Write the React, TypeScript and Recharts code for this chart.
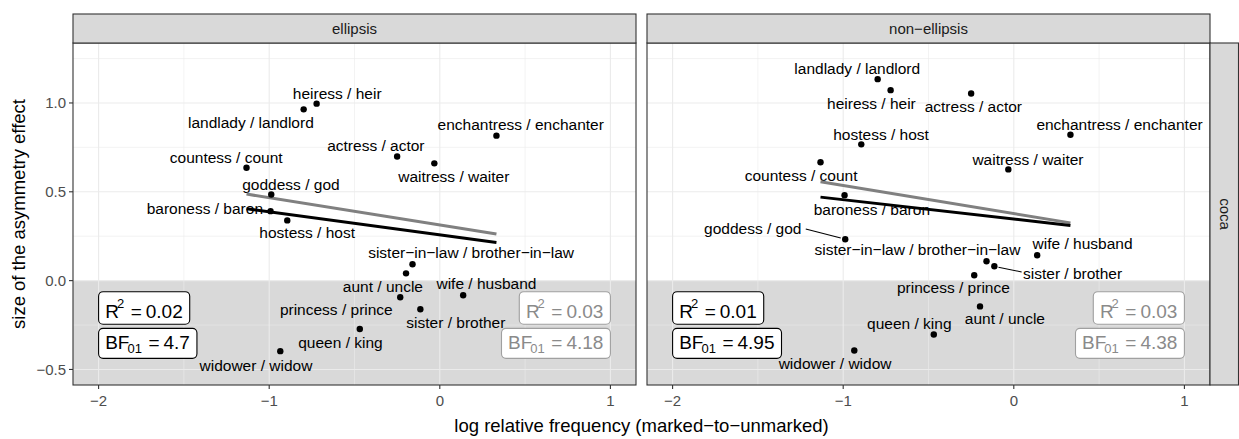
import React from 'react';
import { ScatterChart, Scatter, XAxis, YAxis, ReferenceArea, ReferenceLine } from 'recharts';

const FONT = '"Liberation Sans", Arial, Helvetica, sans-serif';

// ---------- data ----------
const pairs = [
  'heiress / heir',
  'landlady / landlord',
  'enchantress / enchanter',
  'actress / actor',
  'waitress / waiter',
  'countess / count',
  'goddess / god',
  'baroness / baron',
  'hostess / host',
  'sister\u2212in\u2212law / brother\u2212in\u2212law',
  'aunt / uncle',
  'princess / prince',
  'wife / husband',
  'sister / brother',
  'queen / king',
  'widower / widow',
];
const logFrequency = [-0.722, -0.798, 0.332, -0.25, -0.032, -1.133, -0.988, -0.992, -0.894, -0.16, -0.198, -0.232, 0.137, -0.114, -0.469, -0.935];
const ellipsisEffect = [0.996, 0.964, 0.816, 0.699, 0.66, 0.635, 0.485, 0.391, 0.339, 0.092, 0.041, -0.094, -0.082, -0.161, -0.272, -0.397];
const nonEllipsisEffect = [1.072, 1.134, 0.821, 1.053, 0.626, 0.666, 0.233, 0.481, 0.767, 0.109, -0.145, 0.03, 0.143, 0.081, -0.303, -0.393];

// fitted lines: y at the smallest and largest log frequency
const ellipsisFit = [0.405, 0.215];
const ellipsisFitReference = [0.487, 0.262];
const nonEllipsisFit = [0.47, 0.31];
const nonEllipsisFitReference = [0.556, 0.325];

const panelNames = ['ellipsis', 'non\u2212ellipsis'];
const corpusName = 'coca';
const r2Values = ['0.02', '0.01'];
const bfValues = ['4.7', '4.95'];
const r2Reference = ['0.03', '0.03'];
const bfReference = ['4.18', '4.38'];

const xTicks = [-2, -1, 0, 1];
const yTicks = [-0.5, 0, 0.5, 1];
const xMinor = [-1.5, -0.5, 0.5];
const yMinor = [-0.25, 0.25, 0.75, 1.25];

// ---------- layout (label placement, px offsets from the point) ----------
const ellipsisLabelOffsets: number[][] = [
  [20.6, -10.4], [-52.8, 13], [24.3, -11.4], [-21.3, -11.3], [19.5, 13], [-20.3, -10.4],
  [19.7, -10.3], [-65.7, -2.3], [19.9, 12.6], [58.6, -11.4], [-23.1, 13], [-63.9, 12.3],
  [23.3, -11.4], [35.5, 13.6], [-19.3, 14], [-24.3, 14.3],
];
const nonEllipsisLabelOffsets: number[][] = [
  [-19.2, 13.7], [-20.4, -10.3], [49.1, -10.4], [2.2, 12.6], [19.6, -9.6], [-19.4, 12.7],
  [-92.5, -11, -39.5, -10.3, -4.5, -1.2], [27.3, 14], [19.8, -10.3], [-69.1, -11.7], [24.9, 12], [-20.8, 12.6],
  [45.4, -12], [78.2, 7.3, 4.1, 1, 27.3, 5.7], [-24.5, -11.4], [-19.2, 13.3],
];

const X_DOMAIN: [number, number] = [-2.15, 1.15];
const Y_DOMAIN: [number, number] = [-0.5875, 1.3375];
const R2_Y = -0.154;
const BF_Y = -0.353;

const fmt = (v: number, digits: number) => v.toFixed(digits).replace('-', '\u2212');

let measureCtx: CanvasRenderingContext2D | null = null;
function textWidth(s: string, size: number) {
  if (!measureCtx) {
    const c = document.createElement('canvas');
    measureCtx = c.getContext('2d');
  }
  if (!measureCtx) return s.length * size * 0.55;
  measureCtx.font = `${size}px "Liberation Sans", Arial, sans-serif`;
  return measureCtx.measureText(s).width;
}

const Empty = () => <g />;

const DotShape = (props: any) => {
  const { cx, cy } = props;
  return <circle cx={cx} cy={cy} r={3.2} fill="#000" />;
};

const LabelShape = (props: any) => {
  const { cx, cy, payload } = props;
  const o: number[] = payload.off;
  return (
    <g>
      {o.length > 2 && (
        <line x1={cx + o[2]} y1={cy + o[3]} x2={cx + o[4]} y2={cy + o[5]} stroke="#000" strokeWidth={1.1} />
      )}
      <text x={cx + o[0]} y={cy + o[1] + 5.5} textAnchor="middle" fontSize={15.5} fontFamily={FONT} fill="#000">
        {payload.name}
      </text>
    </g>
  );
};

function StatBox(props: any) {
  const { cx, cy, kind, value, anchor, muted } = props;
  const big = 19;
  const small = 13;
  const textColor = muted ? '#8a8a8a' : '#000';
  const borderColor = muted ? '#a0a0a0' : '#000';
  const head = kind === 'r2' ? 'R' : 'BF';
  const script = kind === 'r2' ? '2' : '01';
  const wHead = textWidth(head, big);
  const wScript = textWidth(script, small);
  const wEq = textWidth('=', big);
  const wVal = textWidth(value, big);
  const padL = 6.6;
  const padR = 7;
  const total = padL + wHead - 2 + wScript + 6.5 + wEq + 4 + wVal + padR;
  const h = kind === 'r2' ? 32.6 : 30;
  const left = anchor === 'start' ? cx : cx - total;
  const top = cy - h / 2;
  const base = kind === 'r2' ? top + 26.6 : top + 20.7;
  const scriptBase = kind === 'r2' ? base - 10.6 : base + 4;
  const xHead = left + padL;
  const xScript = xHead + wHead - 2;
  const xEq = xScript + wScript + 6.5;
  const xVal = xEq + wEq + 4;
  return (
    <g>
      <rect x={left} y={top} width={total} height={h} rx={4.5} ry={4.5} fill="#fff" stroke={borderColor} strokeWidth={1.1} />
      <text fontFamily={FONT} fill={textColor}>
        <tspan x={xHead} y={base} fontSize={big}>{head}</tspan>
        <tspan x={xScript} y={scriptBase} fontSize={small}>{script}</tspan>
        <tspan x={xEq} y={base} fontSize={big}>=</tspan>
        <tspan x={xVal} y={base} fontSize={big}>{value}</tspan>
      </text>
    </g>
  );
}

function Panel({ index, left, width, margin, showY }: any) {
  const effects = index === 0 ? ellipsisEffect : nonEllipsisEffect;
  const offsets = index === 0 ? ellipsisLabelOffsets : nonEllipsisLabelOffsets;
  const fitMain = index === 0 ? ellipsisFit : nonEllipsisFit;
  const fitRef = index === 0 ? ellipsisFitReference : nonEllipsisFitReference;
  const points = pairs.map((name, i) => ({ x: logFrequency[i], y: effects[i], name, off: offsets[i] }));
  const xLo = Math.min(...logFrequency);
  const xHi = Math.max(...logFrequency);
  const mainLine = [{ x: xLo, y: fitMain[0] }, { x: xHi, y: fitMain[1] }];
  const refLine = [{ x: xLo, y: fitRef[0] }, { x: xHi, y: fitRef[1] }];
  const tickStyle = { fill: '#4d4d4d', fontSize: 15, fontFamily: FONT };
  return (
    <div style={{ position: 'absolute', left, top: 0 }}>
      <ScatterChart width={width} height={439} margin={margin}>
        <XAxis
          type="number"
          dataKey="x"
          domain={X_DOMAIN}
          ticks={xTicks}
          interval={0}
          allowDataOverflow
          height={54}
          axisLine={false}
          stroke="#333"
          tickLine={{ stroke: '#333', strokeWidth: 1.1 }}
          tickSize={4}
          tickMargin={6}
          tick={tickStyle}
          tickFormatter={(v: number) => fmt(v, 0)}
        />
        <YAxis
          type="number"
          dataKey="y"
          domain={Y_DOMAIN}
          ticks={yTicks}
          interval={0}
          allowDataOverflow
          width={73}
          hide={!showY}
          axisLine={false}
          stroke="#333"
          tickLine={{ stroke: '#333', strokeWidth: 1.1 }}
          tickSize={4}
          tickMargin={3}
          tick={tickStyle}
          tickFormatter={(v: number) => fmt(v, 1)}
        />
        <ReferenceArea x1={X_DOMAIN[0]} x2={X_DOMAIN[1]} y1={Y_DOMAIN[0]} y2={0} fill="#d9d9d9" fillOpacity={1} stroke="none" />
        {xMinor.map((v) => <ReferenceLine key={'xm' + v} x={v} stroke="#ebebeb" strokeWidth={0.6} />)}
        {yMinor.map((v) => <ReferenceLine key={'ym' + v} y={v} stroke="#ebebeb" strokeWidth={0.6} />)}
        {xTicks.map((v) => <ReferenceLine key={'xM' + v} x={v} stroke="#ebebeb" strokeWidth={1.1} />)}
        {yTicks.map((v) => <ReferenceLine key={'yM' + v} y={v} stroke="#ebebeb" strokeWidth={1.1} />)}
        <Scatter data={points} shape={LabelShape} isAnimationActive={false} />
        <Scatter data={refLine} line={{ stroke: '#808080', strokeWidth: 3 }} shape={Empty} isAnimationActive={false} />
        <Scatter data={mainLine} line={{ stroke: '#000', strokeWidth: 3 }} shape={Empty} isAnimationActive={false} />
        <Scatter data={points} shape={DotShape} isAnimationActive={false} />
        <Scatter data={[{ x: X_DOMAIN[0] + 0.15, y: R2_Y }]} isAnimationActive={false}
          shape={(p: any) => <StatBox {...p} kind="r2" value={r2Values[index]} anchor="start" />} />
        <Scatter data={[{ x: X_DOMAIN[0] + 0.15, y: BF_Y }]} isAnimationActive={false}
          shape={(p: any) => <StatBox {...p} kind="bf" value={bfValues[index]} anchor="start" />} />
        <Scatter data={[{ x: X_DOMAIN[1] - 0.15, y: R2_Y }]} isAnimationActive={false}
          shape={(p: any) => <StatBox {...p} kind="r2" value={r2Reference[index]} anchor="end" muted />} />
        <Scatter data={[{ x: X_DOMAIN[1] - 0.15, y: BF_Y }]} isAnimationActive={false}
          shape={(p: any) => <StatBox {...p} kind="bf" value={bfReference[index]} anchor="end" muted />} />
      </ScatterChart>
    </div>
  );
}

export default function App() {
  return (
    <div style={{ position: 'absolute', left: 0, top: 0, width: 1239, height: 439, background: '#fff', overflow: 'hidden' }}>
      <Panel index={0} left={0} width={640} margin={{ top: 43, right: 4, bottom: 0, left: 0 }} showY />
      <Panel index={1} left={640} width={599} margin={{ top: 43, right: 29, bottom: 0, left: 7 }} showY={false} />
      <svg width={1239} height={439} style={{ position: 'absolute', left: 0, top: 0, pointerEvents: 'none' }}>
        <rect x={73} y={43} width={563} height={342} fill="none" stroke="#333" strokeWidth={1.1} />
        <rect x={647} y={43} width={563} height={342} fill="none" stroke="#333" strokeWidth={1.1} />
        <rect x={73} y={14} width={563} height={29} fill="#d9d9d9" stroke="#333" strokeWidth={1.1} />
        <rect x={647} y={14} width={563} height={29} fill="#d9d9d9" stroke="#333" strokeWidth={1.1} />
        <rect x={1210} y={43} width={28.5} height={342} fill="#d9d9d9" stroke="#333" strokeWidth={1.1} />
        <text x={354.5} y={34} textAnchor="middle" fontSize={15} fontFamily={FONT} fill="#1a1a1a">{panelNames[0]}</text>
        <text x={928.5} y={34} textAnchor="middle" fontSize={15} fontFamily={FONT} fill="#1a1a1a">{panelNames[1]}</text>
        <text x={1220} y={214} transform="rotate(90 1220 214)" textAnchor="middle" fontSize={15} fontFamily={FONT} fill="#1a1a1a">{corpusName}</text>
        <text x={641.5} y={432} textAnchor="middle" fontSize={18.5} fontFamily={FONT} fill="#000">log relative frequency (marked{'\u2212'}to{'\u2212'}unmarked)</text>
        <text x={25} y={214} transform="rotate(-90 25 214)" textAnchor="middle" fontSize={18.5} fontFamily={FONT} fill="#000">size of the asymmetry effect</text>
      </svg>
    </div>
  );
}
